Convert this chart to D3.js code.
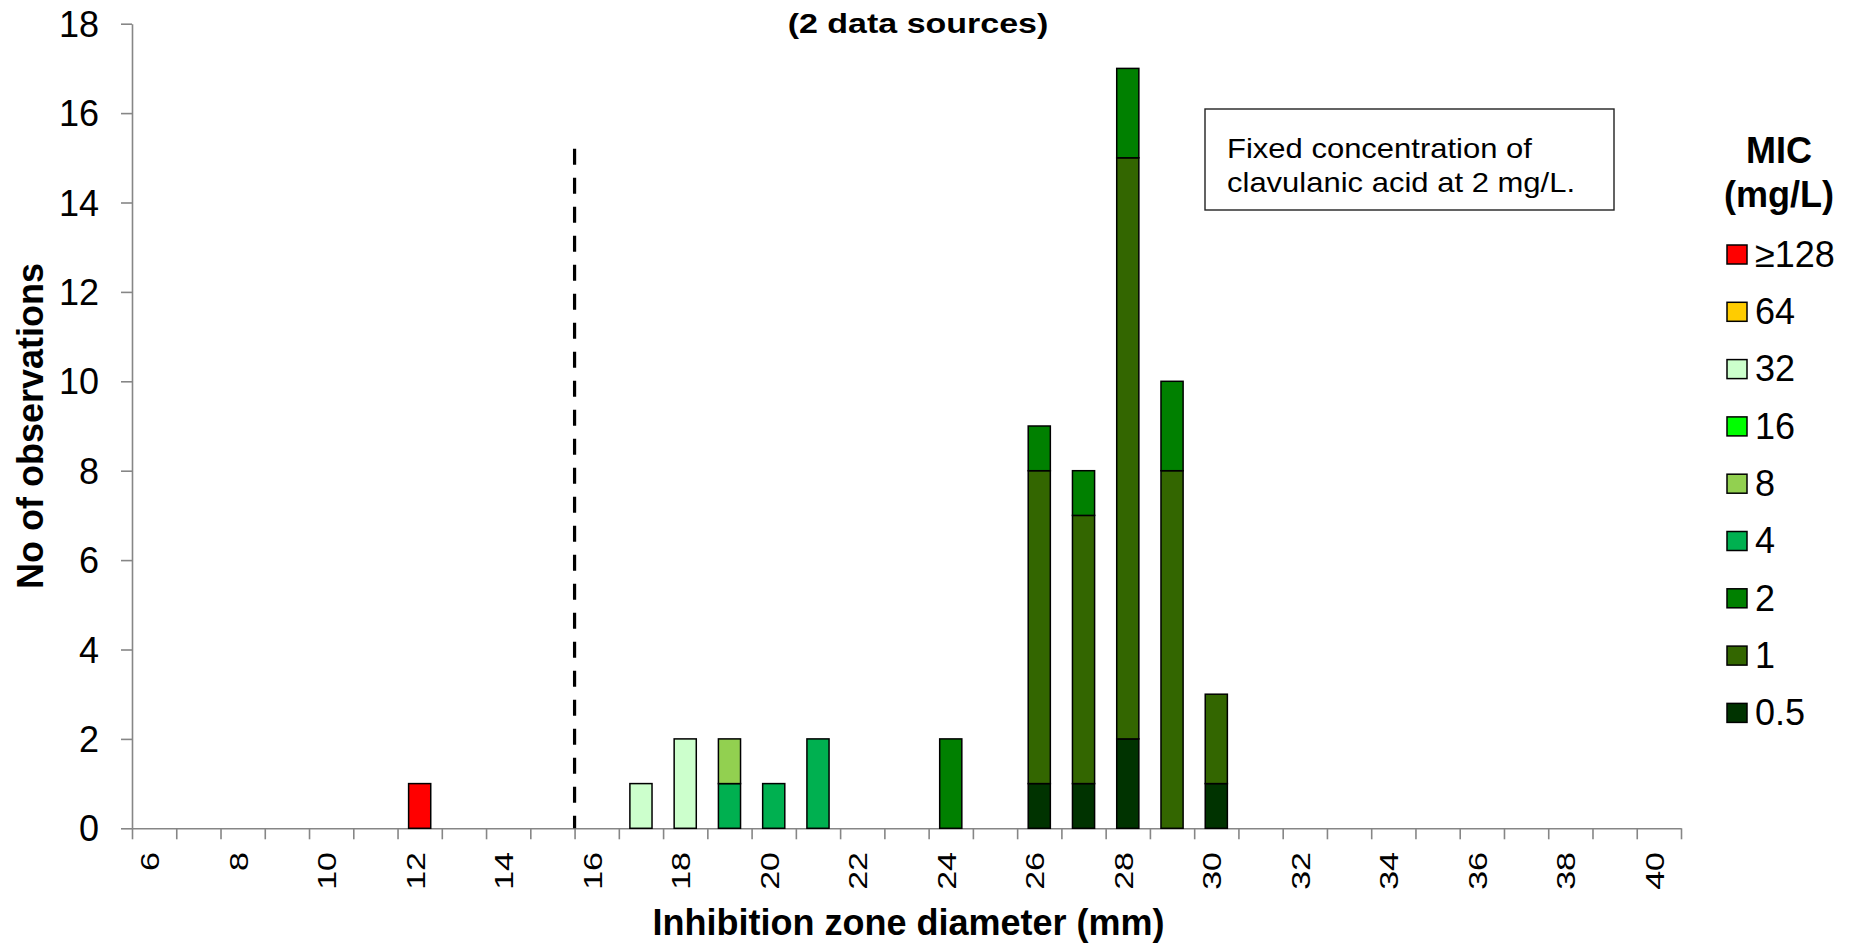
<!DOCTYPE html>
<html>
<head>
<meta charset="utf-8">
<script src="https://cdn.jsdelivr.net/npm/d3@7"></script>
<style>
  html, body { margin: 0; padding: 0; background: #fff; }
  svg { display: block; }
  text { font-family: "Liberation Sans", Arial, Helvetica, sans-serif; fill: #000; }
</style>
</head>
<body>
<svg id="chart" width="1852" height="943"></svg>
<script>
// Inhibition zone diameters (mm), one bar per category
const zones = ["6","7","8","9","10","11","12","13","14","15","16","17","18","19","20",
               "21","22","23","24","25","26","27","28","29","30","31","32","33","34","35",
               "36","37","38","39","40"];
const zoneTickLabels = ["6","8","10","12","14","16","18","20","22","24","26","28","30",
                        "32","34","36","38","40"];

// MIC classes (mg/L), stacked bottom to top
const micClasses = ["0.5","1","2","4","8","16","32","64","≥128"];
const micColors  = ["#003300","#336600","#008000","#00B050","#92D050","#00FF00","#CCFFCC","#FFCC00","#FF0000"];

// Number of observations per zone (6..40), one array per MIC class
//                  6-10        11-15       16-20       21-25        26-30        31-35       36-40
const nMic05  = [0,0,0,0,0,  0,0,0,0,0,  0,0,0,0,0,  0,0,0,0,0,  1,1,2,0,1,   0,0,0,0,0,  0,0,0,0,0];
const nMic1   = [0,0,0,0,0,  0,0,0,0,0,  0,0,0,0,0,  0,0,0,0,0,  7,6,13,8,2,  0,0,0,0,0,  0,0,0,0,0];
const nMic2   = [0,0,0,0,0,  0,0,0,0,0,  0,0,0,0,0,  0,0,0,2,0,  1,1,2,2,0,   0,0,0,0,0,  0,0,0,0,0];
const nMic4   = [0,0,0,0,0,  0,0,0,0,0,  0,0,0,1,1,  2,0,0,0,0,  0,0,0,0,0,   0,0,0,0,0,  0,0,0,0,0];
const nMic8   = [0,0,0,0,0,  0,0,0,0,0,  0,0,0,1,0,  0,0,0,0,0,  0,0,0,0,0,   0,0,0,0,0,  0,0,0,0,0];
const nMic16  = [0,0,0,0,0,  0,0,0,0,0,  0,0,0,0,0,  0,0,0,0,0,  0,0,0,0,0,   0,0,0,0,0,  0,0,0,0,0];
const nMic32  = [0,0,0,0,0,  0,0,0,0,0,  0,1,2,0,0,  0,0,0,0,0,  0,0,0,0,0,   0,0,0,0,0,  0,0,0,0,0];
const nMic64  = [0,0,0,0,0,  0,0,0,0,0,  0,0,0,0,0,  0,0,0,0,0,  0,0,0,0,0,   0,0,0,0,0,  0,0,0,0,0];
const nMic128 = [0,0,0,0,0,  0,1,0,0,0,  0,0,0,0,0,  0,0,0,0,0,  0,0,0,0,0,   0,0,0,0,0,  0,0,0,0,0];

const yTicks = [0,2,4,6,8,10,12,14,16,18];

// Breakpoint marker: drawn at the lower edge of zone 16, up to this count level
const breakpointZone = "16";
const breakpointTop = 15.2;

const titleText = "(2 data sources)";
const noteLines = ["Fixed concentration of", "clavulanic acid at 2 mg/L."];
const legendTitle = ["MIC", "(mg/L)"];

// ---------------------------------------------------------------------------
const seriesCounts = [nMic05, nMic1, nMic2, nMic4, nMic8, nMic16, nMic32, nMic64, nMic128];
const rows = zones.map((z, i) => {
  const r = { zone: z };
  micClasses.forEach((m, k) => { r[m] = seriesCounts[k][i]; });
  return r;
});

const svg = d3.select("#chart");
const plot = { left: 132, right: 1681, top: 23.7, bottom: 828.3 };

const x = d3.scaleBand().domain(zones).range([plot.left, plot.right]).padding(0);
const y = d3.scaleLinear().domain([0, 18]).range([plot.bottom, plot.top]);
const color = d3.scaleOrdinal().domain(micClasses).range(micColors);

const axisGray = "#868686";

// Y axis
const yAxis = svg.append("g")
  .attr("transform", `translate(${plot.left},0)`)
  .call(d3.axisLeft(y).tickValues(yTicks).tickSize(11).tickSizeOuter(0).tickPadding(22));
yAxis.select(".domain").attr("stroke", axisGray).attr("stroke-width", 1.6);
yAxis.selectAll(".tick line").attr("stroke", axisGray).attr("stroke-width", 1.6);
yAxis.selectAll(".tick text")
  .attr("font-size", 36)
  .attr("font-family", "'Liberation Sans', Arial, sans-serif")
  .attr("fill", "#000")
  .attr("dy", "0.35em");

// X axis: line plus ticks on the category boundaries
const edge = d3.scaleLinear().domain([0, zones.length]).range([plot.left, plot.right]);
const xAxis = svg.append("g")
  .attr("transform", `translate(0,${plot.bottom})`)
  .call(d3.axisBottom(edge).tickValues(d3.range(zones.length + 1)).tickSize(11).tickSizeOuter(0).tickFormat(""));
xAxis.select(".domain").attr("stroke", axisGray).attr("stroke-width", 1.6);
xAxis.selectAll(".tick line").attr("stroke", axisGray).attr("stroke-width", 1.6);

// Rotated category labels
svg.append("g").selectAll("text")
  .data(zoneTickLabels)
  .join("text")
  .attr("transform", d => `translate(${x(d) + x.bandwidth() / 2 + 5},852) rotate(-90) scale(1,0.75)`)
  .attr("text-anchor", "end")
  .attr("font-size", 34)
  .text(d => d);

// Stacked bars
const stacked = d3.stack().keys(micClasses)(rows);
const barW = x.bandwidth() * 0.5;
svg.append("g").selectAll("g")
  .data(stacked)
  .join("g")
  .attr("fill", d => color(d.key))
  .selectAll("rect")
  .data(d => d.filter(s => s[1] - s[0] > 0))
  .join("rect")
  .attr("x", s => x(s.data.zone) + (x.bandwidth() - barW) / 2)
  .attr("width", barW)
  .attr("y", s => y(s[1]))
  .attr("height", s => y(s[0]) - y(s[1]))
  .attr("stroke", "#000")
  .attr("stroke-width", 1.5);

// Breakpoint dashed line
svg.append("line")
  .attr("x1", x(breakpointZone)).attr("x2", x(breakpointZone))
  .attr("y1", y(breakpointTop)).attr("y2", y(0))
  .attr("stroke", "#000")
  .attr("stroke-width", 3.2)
  .attr("stroke-dasharray", "16,13");

// Title
svg.append("text")
  .attr("transform", "translate(918,33) scale(1,0.82)")
  .attr("text-anchor", "middle")
  .attr("font-size", 34)
  .attr("font-weight", "bold")
  .text(titleText);

// Axis titles
svg.append("text")
  .attr("x", (plot.left + plot.right) / 2 + 2)
  .attr("y", 935)
  .attr("text-anchor", "middle")
  .attr("font-size", 36)
  .attr("font-weight", "bold")
  .text("Inhibition zone diameter (mm)");

svg.append("text")
  .attr("transform", `translate(43,${(plot.top + plot.bottom) / 2}) rotate(-90)`)
  .attr("text-anchor", "middle")
  .attr("font-size", 36)
  .attr("font-weight", "bold")
  .text("No of observations");

// Note box
const note = svg.append("g");
note.append("rect")
  .attr("x", 1205).attr("y", 109)
  .attr("width", 409).attr("height", 101)
  .attr("fill", "#fff")
  .attr("stroke", "#222")
  .attr("stroke-width", 1.4);
note.selectAll("text")
  .data(noteLines)
  .join("text")
  .attr("transform", (d, i) => `translate(1227,${158.3 + i * 33.4}) scale(1,0.9)`)
  .attr("font-size", 31)
  .text(d => d);

// Legend
const legend = svg.append("g");
legend.selectAll("text.title")
  .data(legendTitle)
  .join("text")
  .attr("class", "title")
  .attr("x", 1779)
  .attr("y", (d, i) => 163 + i * 44)
  .attr("text-anchor", "middle")
  .attr("font-size", 36)
  .attr("font-weight", "bold")
  .text(d => d);

const legendItems = micClasses.slice().reverse();
const item = legend.selectAll("g.item")
  .data(legendItems)
  .join("g")
  .attr("class", "item")
  .attr("transform", (d, i) => `translate(1727,${245 + i * 57.3})`);
item.append("rect")
  .attr("width", 20).attr("height", 19)
  .attr("fill", d => color(d))
  .attr("stroke", "#000")
  .attr("stroke-width", 1.5);
item.append("text")
  .attr("x", 28)
  .attr("y", 21.7)
  .attr("font-size", 36)
  .text(d => d);
</script>
</body>
</html>
